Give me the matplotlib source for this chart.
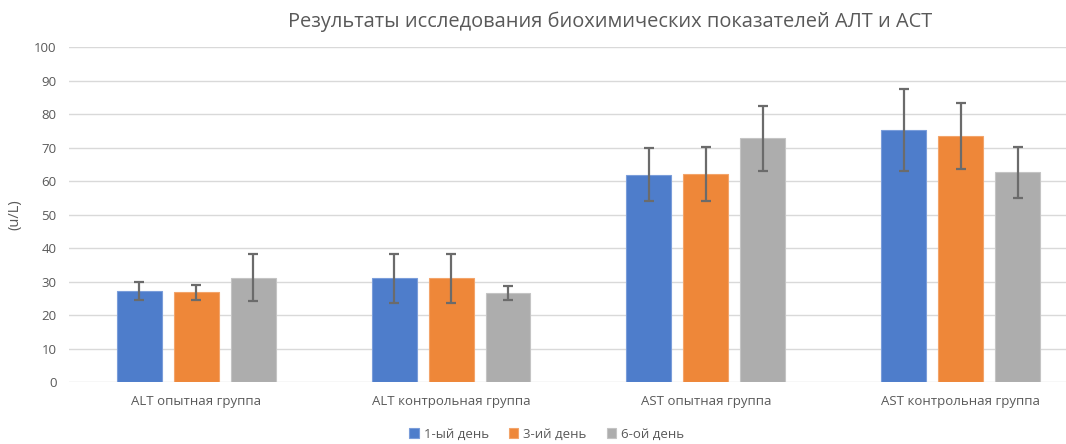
import matplotlib.pyplot as plt
import numpy as np

plt.rcParams['font.family'] = ['Open Sans', 'DejaVu Sans']

groups = ['ALT опытная группа', 'ALT контрольная группа',
          'AST опытная группа', 'AST контрольная группа']
series = ['1-ый день', '3-ий день', '6-ой день']
day1 = [27.1, 31.0, 61.9, 75.3]
day3 = [26.8, 31.0, 62.1, 73.4]
day6 = [31.1, 26.6, 72.7, 62.6]
err1 = [2.7, 7.3, 8.0, 12.2]
err3 = [2.3, 7.3, 8.0, 9.8]
err6 = [7.0, 2.2, 9.6, 7.6]

colors = ['#4E7DCB', '#EE8739', '#ADADAD']
edges = ['#7A9DDA', '#F3A46A', '#C4C4C4']

fig = plt.figure(figsize=(10.66, 4.44), dpi=100)
ax = fig.add_axes([0.0647, 0.1396, 0.9559, 0.7545])

x = np.arange(len(groups)) + 0.5
step = 0.2235
width = 0.176
for i, (vals, errs) in enumerate(zip([day1, day3, day6], [err1, err3, err6])):
    ax.bar(x + (i - 1) * step, vals, width, color=colors[i], edgecolor=edges[i],
           linewidth=0.8, label=series[i], zorder=2)
    ax.errorbar(x + (i - 1) * step, vals, yerr=errs, fmt='none', ecolor='#6B6B6B',
                elinewidth=1.6, capsize=3.5, capthick=1.6, zorder=3)

ax.set_xlim(0, 4)
ax.set_ylim(0, 100)
ax.set_yticks(range(0, 101, 10))
ax.set_xticks(x)
ax.set_xticklabels(groups)
ax.grid(axis='y', color='#D9D9D9', linewidth=1, zorder=0)
ax.tick_params(length=0, colors='#595959', labelsize=9.5)
ax.tick_params(axis='x', pad=9)
ax.tick_params(axis='y', pad=9)
for s in ax.spines.values():
    s.set_visible(False)
ax.set_ylabel('(u/L)', color='#595959', fontsize=10.5, labelpad=8)

fig.text(0.572, 0.952, 'Результаты исследования биохимических показателей АЛТ и АСТ',
         ha='center', va='center', fontsize=14.4, color='#595959')
fig.legend(loc='center', bbox_to_anchor=(0.513, 0.022), ncol=3, frameon=False,
           fontsize=9.5, labelcolor='#595959', handlelength=0.7, handleheight=0.7,
           handletextpad=0.4, columnspacing=1.5)

fig.savefig('out.png', dpi=100)
